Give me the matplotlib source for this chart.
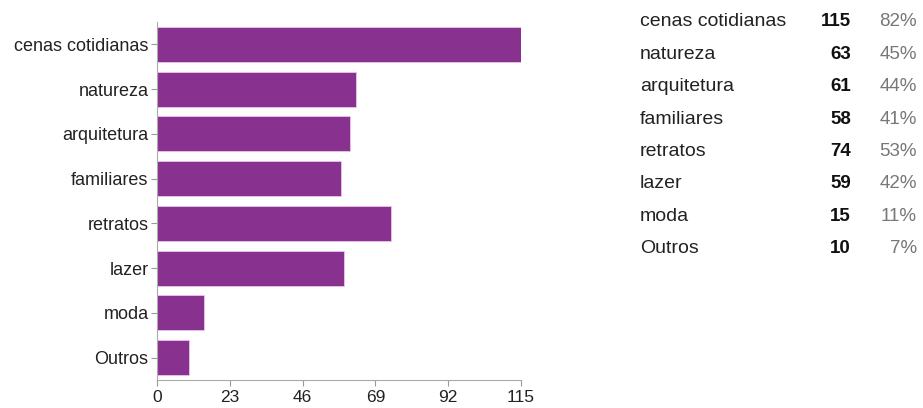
import numpy as np
import matplotlib
matplotlib.use('Agg')
from matplotlib import pyplot as plt

plt.rcParams['font.family'] = ['Liberation Sans', 'DejaVu Sans']

categories = ['cenas cotidianas', 'natureza', 'arquitetura', 'familiares',
              'retratos', 'lazer', 'moda', 'Outros']
counts = [115, 63, 61, 58, 74, 59, 15, 10]
percents = ['82%', '45%', '44%', '41%', '53%', '42%', '11%', '7%']
xticks = [0, 23, 46, 69, 92, 115]

fig = plt.figure(figsize=(9.23, 4.08), dpi=100)
ax = fig.add_axes([0.170, 0.0686, 0.3945, 0.8775])

y = np.arange(len(categories))
ax.barh(y, counts, height=0.78, color='#89318f', edgecolor='#e9c6ee', linewidth=0.6)
ax.set_ylim(len(categories) - 0.5, -0.5)
ax.set_xlim(0, 115)
ax.set_yticks(y)
ax.set_yticklabels(categories)
ax.set_xticks(xticks)
ax.tick_params(axis='both', colors='#999999', length=4, width=0.8,
               labelcolor='#222222')
ax.tick_params(axis='x', pad=3, labelsize=12.5)
ax.tick_params(axis='y', pad=2, labelsize=13)
for s in ['top', 'right']:
    ax.spines[s].set_visible(False)
for s in ['left', 'bottom']:
    ax.spines[s].set_color('#aaaaaa')
    ax.spines[s].set_linewidth(0.8)

# summary table on the right
row0 = 1 - 22 / 408
step = 32.4 / 408
for i, (c, n, p) in enumerate(zip(categories, counts, percents)):
    yy = row0 - i * step
    fig.text(640 / 923, yy, c, fontsize=14, color='#222222', va='center', ha='left')
    fig.text(851 / 923, yy, str(n), fontsize=13.5, color='#111111', fontweight='bold',
             va='center', ha='right')
    fig.text(917 / 923, yy, p, fontsize=13.5, color='#777777', va='center', ha='right')

fig.savefig('out.png', dpi=100)
